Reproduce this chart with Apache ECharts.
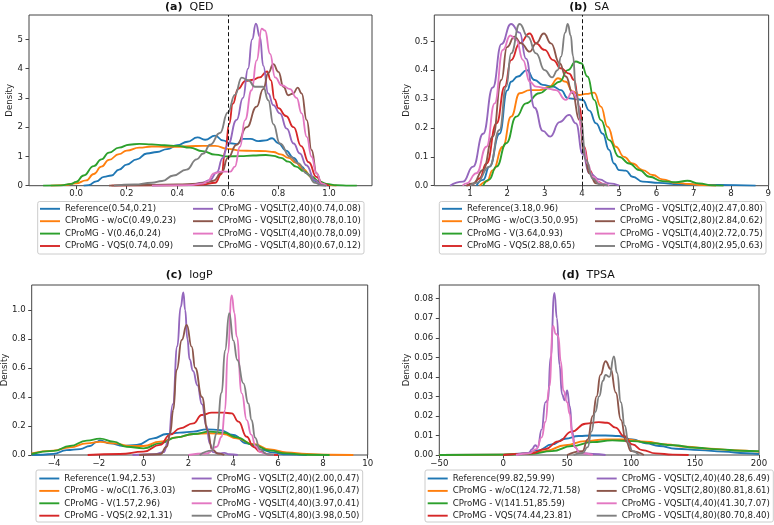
<!DOCTYPE html>
<html><head><meta charset="utf-8">
<script src="https://cdn.jsdelivr.net/npm/echarts@6/dist/echarts.min.js"></script>
<style>html,body{margin:0;padding:0;background:#fff}#c{width:774px;height:525px}</style>
</head><body><div id="c"></div>
<script>
// ---------- (a) QED ----------
const qedNames = ['Reference(0.54,0.21)','CProMG - w/oC(0.49,0.23)','CProMG - V(0.46,0.24)','CProMG - VQS(0.74,0.09)','CProMG - VQSLT(2,40)(0.74,0.08)','CProMG - VQSLT(2,80)(0.78,0.10)','CProMG - VQSLT(4,40)(0.78,0.09)','CProMG - VQSLT(4,80)(0.67,0.12)'];
const qedXTicks = [0.0,0.2,0.4,0.6,0.8,1.0];
const qedYTicks = [0,1,2,3,4,5];
const qedRef = [[0.03,0],[0.05,0.02],[0.08,0.15],[0.11,0.3],[0.14,0.35],[0.17,0.55],[0.2,0.72],[0.24,0.9],[0.28,1.1],[0.32,1.15],[0.36,1.25],[0.4,1.38],[0.44,1.5],[0.48,1.65],[0.51,1.57],[0.55,1.71],[0.58,1.55],[0.61,1.45],[0.635,1.42],[0.66,1.6],[0.69,1.6],[0.72,1.52],[0.75,1.55],[0.775,1.62],[0.8,1.45],[0.83,1.2],[0.86,0.95],[0.89,0.65],[0.92,0.38],[0.95,0.15],[0.98,0.03],[1.0,0]];
const qedWoc = [[-0.1,0],[-0.05,0.02],[0.0,0.08],[0.04,0.18],[0.07,0.4],[0.1,0.65],[0.13,0.88],[0.17,1.08],[0.2,1.2],[0.25,1.3],[0.3,1.34],[0.35,1.33],[0.4,1.33],[0.45,1.35],[0.5,1.36],[0.55,1.36],[0.6,1.26],[0.65,1.2],[0.7,1.19],[0.75,1.18],[0.78,1.15],[0.81,1.07],[0.84,0.95],[0.87,0.78],[0.9,0.55],[0.93,0.3],[0.96,0.12],[0.99,0.03],[1.03,0]];
const qedV = [[-0.13,0],[-0.06,0.01],[-0.02,0.06],[0.0,0.13],[0.03,0.35],[0.07,0.67],[0.1,0.9],[0.13,1.13],[0.17,1.3],[0.21,1.4],[0.25,1.43],[0.3,1.41],[0.35,1.38],[0.4,1.36],[0.45,1.3],[0.5,1.18],[0.55,1.06],[0.6,1.0],[0.65,1.01],[0.7,1.03],[0.75,1.05],[0.78,1.02],[0.81,0.95],[0.84,0.82],[0.87,0.65],[0.9,0.5],[0.93,0.32],[0.96,0.15],[0.99,0.06],[1.03,0.02],[1.08,0.005],[1.11,0]];
const qedVqs = [[0.14,0],[0.3,0.01],[0.45,0.02],[0.5,0.04],[0.55,0.1],[0.575,0.4],[0.59,1.2],[0.605,2.1],[0.62,2.8],[0.64,3.3],[0.67,3.58],[0.7,3.62],[0.725,3.7],[0.755,3.9],[0.77,3.6],[0.785,2.95],[0.8,2.65],[0.83,2.38],[0.86,2.0],[0.89,1.35],[0.92,0.8],[0.95,0.3],[0.975,0.06],[1.0,0]];
const qedL240 = [[0.3,0],[0.45,0.03],[0.5,0.1],[0.53,0.2],[0.556,0.45],[0.58,0.95],[0.6,1.4],[0.635,2.25],[0.66,3.0],[0.68,4.0],[0.696,5.0],[0.711,5.53],[0.727,5.08],[0.74,4.1],[0.76,3.15],[0.78,2.75],[0.806,2.47],[0.833,1.95],[0.86,1.44],[0.885,1.1],[0.91,0.7],[0.945,0.19],[0.97,0.02],[0.99,0]];
const qedL280 = [[0.13,0],[0.2,0.02],[0.3,0.03],[0.4,0.04],[0.48,0.07],[0.52,0.12],[0.543,0.17],[0.576,0.45],[0.6,0.95],[0.635,1.4],[0.675,2.0],[0.714,2.7],[0.74,3.3],[0.76,3.85],[0.78,4.15],[0.8,3.89],[0.82,3.38],[0.839,3.09],[0.859,3.15],[0.876,3.35],[0.892,3.15],[0.912,2.24],[0.931,1.22],[0.951,0.42],[0.971,0.08],[0.99,0]];
const qedL440 = [[0.3,0],[0.45,0.02],[0.5,0.07],[0.52,0.15],[0.545,0.42],[0.575,0.48],[0.61,0.48],[0.628,0.65],[0.648,1.33],[0.668,2.24],[0.694,3.26],[0.714,4.28],[0.734,5.36],[0.747,5.3],[0.767,4.5],[0.787,3.7],[0.813,3.43],[0.846,3.3],[0.872,3.0],[0.892,2.47],[0.912,1.67],[0.931,0.99],[0.951,0.42],[0.971,0.08],[0.99,0]];
const qedL480 = [[0.15,0],[0.23,0.04],[0.3,0.1],[0.34,0.16],[0.385,0.35],[0.437,0.55],[0.477,0.9],[0.503,1.1],[0.53,1.4],[0.569,1.8],[0.6,2.5],[0.628,3.1],[0.655,3.69],[0.681,3.6],[0.707,3.38],[0.74,3.38],[0.76,2.92],[0.78,2.1],[0.806,1.44],[0.846,0.99],[0.879,0.76],[0.912,0.42],[0.945,0.1],[0.97,0.01],[0.99,0]];

// ---------- (b) SA ----------
const saNames = ['Reference(3.18,0.96)','CProMG - w/oC(3.50,0.95)','CProMG - V(3.64,0.93)','CProMG - VQS(2.88,0.65)','CProMG - VQSLT(2,40)(2.47,0.80)','CProMG - VQSLT(2,80)(2.84,0.62)','CProMG - VQSLT(4,40)(2.72,0.75)','CProMG - VQSLT(4,80)(2.95,0.63)'];
const saXTicks = [1,2,3,4,5,6,7,8,9];
const saYTicks = [0.0,0.1,0.2,0.3,0.4,0.5];
const saRef = [[1.17,0],[1.35,0.02],[1.52,0.066],[1.79,0.18],[2.0,0.33],[2.1,0.36],[2.28,0.378],[2.52,0.4],[2.73,0.366],[2.95,0.349],[3.23,0.343],[3.44,0.331],[3.62,0.303],[3.84,0.3],[4.02,0.297],[4.2,0.26],[4.38,0.216],[4.56,0.18],[4.73,0.124],[4.86,0.077],[5.0,0.054],[5.18,0.052],[5.36,0.031],[5.63,0.014],[6.07,0.01],[6.6,0.005],[7.23,0.003],[8.12,0.002],[8.66,0]];
const saWoc = [[1.26,0],[1.45,0.015],[1.61,0.054],[1.88,0.135],[2.1,0.239],[2.33,0.32],[2.6,0.331],[2.86,0.331],[3.13,0.343],[3.36,0.372],[3.57,0.36],[3.75,0.326],[3.93,0.314],[4.11,0.318],[4.33,0.322],[4.51,0.274],[4.69,0.204],[4.91,0.135],[5.13,0.1],[5.36,0.077],[5.63,0.054],[5.9,0.037],[6.16,0.022],[6.52,0.01],[6.88,0.006],[7.23,0.002],[7.6,0]];
const saV = [[1.35,0],[1.5,0.02],[1.71,0.066],[1.97,0.147],[2.24,0.239],[2.5,0.285],[2.86,0.32],[3.17,0.343],[3.4,0.36],[3.62,0.4],[3.84,0.43],[3.98,0.424],[4.15,0.378],[4.33,0.297],[4.51,0.227],[4.73,0.158],[5.0,0.1],[5.27,0.077],[5.54,0.054],[5.81,0.031],[6.16,0.016],[6.52,0.012],[6.83,0.017],[7.14,0.008],[7.5,0.001],[7.8,0]];
const saVqs = [[0.9,0],[1.08,0.006],[1.25,0.025],[1.44,0.077],[1.71,0.216],[1.93,0.343],[2.1,0.435],[2.33,0.493],[2.6,0.527],[2.77,0.493],[3.0,0.47],[3.23,0.435],[3.44,0.406],[3.66,0.388],[3.79,0.366],[3.93,0.274],[4.06,0.135],[4.2,0.054],[4.38,0.014],[4.6,0]];
const saL240 = [[0.46,0],[0.81,0.014],[1.08,0.066],[1.35,0.18],[1.61,0.34],[1.84,0.49],[2.1,0.56],[2.33,0.53],[2.5,0.44],[2.73,0.27],[2.95,0.19],[3.15,0.17],[3.4,0.22],[3.66,0.245],[3.84,0.216],[4.02,0.11],[4.2,0.043],[4.47,0.022],[4.73,0.008],[5.0,0]];
const saL280 = [[0.9,0],[1.08,0.008],[1.35,0.055],[1.61,0.17],[1.84,0.366],[1.99,0.48],[2.19,0.516],[2.37,0.493],[2.6,0.464],[2.77,0.493],[2.98,0.527],[3.17,0.493],[3.4,0.424],[3.57,0.378],[3.75,0.32],[3.93,0.227],[4.06,0.112],[4.2,0.043],[4.38,0.008],[4.6,0]];
const saL440 = [[0.8,0],[0.9,0.008],[1.17,0.043],[1.44,0.135],[1.66,0.285],[1.88,0.47],[2.08,0.52],[2.24,0.505],[2.42,0.435],[2.6,0.36],[2.77,0.343],[3.04,0.337],[3.3,0.331],[3.57,0.297],[3.75,0.326],[3.88,0.3],[3.98,0.2],[4.06,0.13],[4.15,0.077],[4.29,0.031],[4.51,0.008],[4.73,0]];
const saL480 = [[1.0,0],[1.17,0.01],[1.52,0.066],[1.79,0.193],[1.97,0.343],[2.1,0.458],[2.33,0.56],[2.55,0.516],[2.77,0.458],[3.0,0.4],[3.2,0.375],[3.35,0.4],[3.44,0.447],[3.55,0.53],[3.62,0.56],[3.7,0.52],[3.76,0.45],[3.84,0.33],[3.97,0.227],[4.11,0.089],[4.29,0.025],[4.47,0.005],[4.7,0]];

// ---------- (c) logP ----------
const lpNames = ['Reference(1.94,2.53)','CProMG - w/oC(1.76,3.03)','CProMG - V(1.57,2.96)','CProMG - VQS(2.92,1.31)','CProMG - VQSLT(2,40)(2.00,0.47)','CProMG - VQSLT(2,80)(1.96,0.47)','CProMG - VQSLT(4,40)(3.97,0.41)','CProMG - VQSLT(4,80)(3.98,0.50)'];
const lpXTicks = [-4,-2,0,2,4,6,8,10];
const lpYTicks = [0.0,0.2,0.4,0.6,0.8,1.0];
const lpRef = [[-5,0],[-4.5,0.002],[-4.03,0.008],[-3.44,0.034],[-2.84,0.041],[-2.4,0.062],[-2.1,0.09],[-1.95,0.1],[-1.5,0.08],[-0.91,0.062],[-0.31,0.069],[0.43,0.115],[1.03,0.145],[1.62,0.154],[2.22,0.161],[2.81,0.177],[3.41,0.172],[4.0,0.138],[4.6,0.08],[5.19,0.039],[5.79,0.016],[6.38,0.004],[7.28,0]];
const lpWoc = [[-5,0.011],[-4.03,0.03],[-3.29,0.053],[-2.54,0.08],[-1.95,0.09],[-1.35,0.08],[-0.61,0.062],[-0.01,0.062],[0.73,0.092],[1.47,0.122],[2.22,0.145],[2.96,0.15],[3.56,0.145],[4.15,0.115],[4.9,0.076],[5.64,0.039],[6.38,0.018],[7.28,0.007],[8.3,0.002],[9.36,0]];
const lpV = [[-5,0.007],[-4.03,0.028],[-3.29,0.062],[-2.54,0.099],[-1.95,0.113],[-1.35,0.092],[-0.76,0.057],[-0.01,0.046],[0.73,0.08],[1.47,0.122],[2.22,0.145],[2.96,0.161],[3.56,0.154],[4.15,0.122],[4.9,0.069],[5.64,0.03],[6.38,0.011],[7.28,0.002],[8.3,0]];
const lpVqs = [[-2.5,0],[-1.06,0.007],[-0.01,0.023],[0.73,0.07],[1.18,0.14],[1.62,0.184],[2.22,0.218],[2.59,0.276],[3.04,0.292],[3.56,0.292],[3.93,0.287],[4.23,0.23],[4.6,0.126],[4.9,0.057],[5.19,0.023],[5.64,0.002],[6.0,0]];
const lpL240 = [[-0.5,0],[0.5,0.005],[0.9,0.02],[1.1,0.1],[1.3,0.35],[1.5,0.75],[1.65,1.02],[1.77,1.12],[1.85,1.0],[1.95,0.8],[2.05,0.66],[2.2,0.58],[2.4,0.48],[2.6,0.35],[2.8,0.2],[2.95,0.08],[3.1,0.02],[3.4,0.01],[3.6,0.015],[3.8,0.005],[4.2,0]];
const lpL280 = [[-0.2,0],[0.73,0.005],[1.03,0.057],[1.18,0.15],[1.32,0.31],[1.47,0.586],[1.7,0.793],[1.92,0.897],[2.14,0.747],[2.3,0.6],[2.6,0.4],[2.85,0.17],[3.05,0.04],[3.3,0.01],[3.6,0]];
const lpL440 = [[2.0,0],[2.81,0.01],[3.26,0.057],[3.48,0.126],[3.63,0.31],[3.75,0.7],[3.93,1.1],[4.05,0.98],[4.15,0.816],[4.38,0.425],[4.6,0.24],[4.8,0.14],[5.0,0.06],[5.2,0.02],[5.49,0.005],[5.8,0]];
const lpL480 = [[2.5,0],[3.04,0.03],[3.26,0.15],[3.48,0.43],[3.63,0.72],[3.82,0.977],[4.0,0.79],[4.18,0.655],[4.45,0.494],[4.67,0.356],[4.82,0.24],[4.97,0.12],[5.19,0.04],[5.49,0.005],[5.8,0]];

// ---------- (d) TPSA ----------
const tpNames = ['Reference(99.82,59.99)','CProMG - w/oC(124.72,71.58)','CProMG - V(141.51,85.59)','CProMG - VQS(74.44,23.81)','CProMG - VQSLT(2,40)(40.28,6.49)','CProMG - VQSLT(2,80)(80.81,8.61)','CProMG - VQSLT(4,40)(41.30,7.07)','CProMG - VQSLT(4,80)(80.70,8.40)'];
const tpXTicks = [-50,0,50,100,150,200];
const tpYTicks = [0.00,0.01,0.02,0.03,0.04,0.05,0.06,0.07,0.08];
const tpRef = [[-50,0],[0,0.0002],[17,0.0008],[27.4,0.0024],[38,0.0054],[48.5,0.0083],[59,0.0097],[69.5,0.01],[80,0.01],[90.5,0.0097],[101,0.008],[111.5,0.006],[122,0.0046],[135,0.0032],[153.5,0.0025],[171.9,0.0017],[190,0.0009],[200,0.0005]];
const tpWoc = [[-50,0],[0,0.0002],[17,0.0007],[32.7,0.002],[48.5,0.005],[64.2,0.0071],[80,0.008],[95.7,0.008],[111.5,0.0068],[127.3,0.0054],[143,0.0042],[161.4,0.0032],[179.8,0.0025],[200,0.0017]];
const tpV = [[-50,0],[0,0.0002],[22.2,0.0006],[38,0.002],[53.7,0.0046],[69.5,0.0066],[85.3,0.0075],[101,0.0071],[116.7,0.006],[132.5,0.005],[150.9,0.0037],[169.3,0.0029],[185,0.0022],[200,0.0019]];
const tpVqs = [[0,0],[22.2,0.0008],[32.7,0.003],[43.2,0.007],[53.7,0.012],[64.2,0.016],[74.7,0.0168],[81.3,0.0165],[87.8,0.014],[94.4,0.0097],[101,0.0054],[108.8,0.0025],[119.3,0.0008],[132.5,0.0002],[145,0]];
const tpL240 = [[10,0],[20,0.001],[22.5,0.003],[25,0.005],[27,0.004],[30,0.013],[33,0.027],[35,0.028],[37,0.05],[40,0.083],[42,0.07],[44,0.046],[46,0.031],[48,0.028],[50,0.033],[52,0.025],[54,0.012],[56,0.004],[60,0.001],[70,0.0005],[80,0]];
const tpL280 = [[50,0],[62,0.002],[66,0.008],[70,0.02],[73,0.03],[76,0.041],[80,0.048],[84,0.044],[88,0.032],[92,0.018],[96,0.007],[100,0.002],[110,0]];
const tpL440 = [[10,0],[20,0.0008],[26,0.003],[30,0.009],[33,0.017],[36,0.035],[39,0.066],[41,0.062],[43,0.061],[45,0.048],[47,0.033],[50,0.027],[52,0.021],[54,0.01],[56,0.004],[60,0.001],[70,0]];
const tpL480 = [[55,0],[62,0.001],[66,0.004],[69,0.012],[72,0.022],[75,0.03],[78,0.038],[80,0.041],[83,0.04],[86.5,0.0505],[89,0.042],[92,0.027],[95,0.015],[98,0.006],[101,0.002],[106,0]];

const colors = ['#1f77b4','#ff7f0e','#2ca02c','#d62728','#9467bd','#8c564b','#e377c2','#7f7f7f'];
const FONT = 'DejaVu Sans';
const FS = 8.6;
const minus = v => (v < 0 ? '\u2212' : '') + Math.abs(v);

const panels = [
  {tag:'(a)', label:'QED', grid:{left:29, top:15, width:343, height:170.7}, xMin:-0.186, xMax:1.17, xTicks:qedXTicks, xFmt:v=>v.toFixed(1),
   yMax:5.83, yTicks:qedYTicks, yFmt:v=>String(v), curves:[qedRef,qedWoc,qedV,qedVqs,qedL240,qedL280,qedL440,qedL480], names:qedNames, vline:0.6,
   titleX:165, titleTop:0.5, densX:10, box:[37.7,201.5,326.3,52.5], cols:[40,193], row0:208.8},
  {tag:'(b)', label:'SA', grid:{left:434.3, top:15, width:335.7, height:170.7}, xMin:0.04, xMax:9.01, xTicks:saXTicks, xFmt:v=>String(v),
   yMax:0.591, yTicks:saYTicks, yFmt:v=>v.toFixed(1), curves:[saRef,saWoc,saV,saVqs,saL240,saL280,saL440,saL480], names:saNames, vline:4,
   titleX:569.3, titleTop:0.5, densX:406.7, box:[439.3,201.5,326.7,52.5], cols:[442,595], row0:208.8},
  {tag:'(c)', label:'logP', grid:{left:31.7, top:285, width:336, height:170}, xMin:-5, xMax:10, xTicks:lpXTicks, xFmt:minus,
   yMax:1.172, yTicks:lpYTicks, yFmt:v=>v.toFixed(1), curves:[lpRef,lpWoc,lpV,lpVqs,lpL240,lpL280,lpL440,lpL480], names:lpNames, vline:null,
   titleX:165.7, titleTop:268.5, densX:5, box:[36,470,326.7,52], cols:[39.3,191.7], row0:478.5},
  {tag:'(d)', label:'TPSA', grid:{left:439.3, top:285, width:319.7, height:170}, xMin:-50, xMax:200, xTicks:tpXTicks, xFmt:minus,
   yMax:0.087, yTicks:tpYTicks, yFmt:v=>v.toFixed(2), curves:[tpRef,tpWoc,tpV,tpVqs,tpL240,tpL280,tpL440,tpL480], names:tpNames, vline:null,
   titleX:561.7, titleTop:268.5, densX:406.7, box:[425,470,348.3,52], cols:[427.7,596.7], row0:478.5}
];

const grid=[], xAxis=[], yAxis=[], series=[], legend=[], title=[], graphic=[];
const axisTxt = {fontFamily:FONT, fontSize:FS, color:'#222'};
panels.forEach((p,i)=>{
  grid.push(Object.assign({show:true, borderColor:'#444', borderWidth:1, backgroundColor:'#fff'}, p.grid));
  xAxis.push({type:'value', gridIndex:i, position:'bottom', min:p.xMin, max:p.xMax, splitLine:{show:false}, axisLine:{show:false, onZero:false},
    axisTick:{show:true, length:3.5, customValues:p.xTicks, lineStyle:{color:'#444'}},
    axisLabel:Object.assign({customValues:p.xTicks, formatter:p.xFmt, margin:4}, axisTxt)});
  yAxis.push({type:'value', gridIndex:i, position:'left', min:0, max:p.yMax, splitLine:{show:false}, axisLine:{show:false, onZero:false},
    axisTick:{show:true, length:3.5, customValues:p.yTicks, lineStyle:{color:'#444'}},
    axisLabel:Object.assign({customValues:p.yTicks, formatter:p.yFmt, margin:6}, axisTxt)});
  p.curves.forEach((d,k)=>{
    series.push({type:'line', name:p.names[k], xAxisIndex:i, yAxisIndex:i, data:d, showSymbol:false, symbol:'none',
      smooth:0.5, smoothMonotone:'x', clip:true, lineStyle:{width:1.85, color:colors[k]}, itemStyle:{color:colors[k]},
      emphasis:{disabled:true}});
  });
  if (p.vline !== null) {
    series.push({type:'line', name:'vline'+i, xAxisIndex:i, yAxisIndex:i, data:[], markLine:{silent:true, symbol:['none','none'],
      label:{show:false}, lineStyle:{color:'#111', type:[4,2.5], width:1}, data:[{xAxis:p.vline}], animation:false}});
  }
  [0,1].forEach(c=>{
    legend.push({orient:'vertical', left:p.cols[c], top:p.row0-5, padding:0, itemGap:2.4, itemWidth:20, itemHeight:1.9,
      icon:'rect', selectedMode:false, data:p.names.slice(c*4, c*4+4),
      textStyle:{fontFamily:FONT, fontSize:FS, color:'#222', lineHeight:10}});
  });
  title.push({text:'{b|'+p.tag+'}  '+p.label, left:p.titleX, top:p.titleTop, padding:0,
    textStyle:{fontFamily:FONT, fontSize:11, fontWeight:'normal', color:'#111', lineHeight:13,
      rich:{b:{fontFamily:FONT, fontSize:11, fontWeight:'bold', color:'#111', lineHeight:13}}}});
  graphic.push({type:'rect', z:1, shape:{x:p.box[0], y:p.box[1], width:p.box[2], height:p.box[3], r:2},
    style:{fill:'#fff', stroke:'#cccccc', lineWidth:1}});
  graphic.push({type:'text', z:5, x:p.densX, y:p.grid.top+p.grid.height/2, rotation:Math.PI/2,
    style:{text:'Density', font:FS+'px "'+FONT+'"', fill:'#222', align:'center', verticalAlign:'middle'}});
});

const chart = echarts.init(document.getElementById('c'), null, {renderer:'canvas'});
chart.setOption({animation:false, backgroundColor:'#fff', grid, xAxis, yAxis, series, legend, title, graphic});
</script></body></html>
